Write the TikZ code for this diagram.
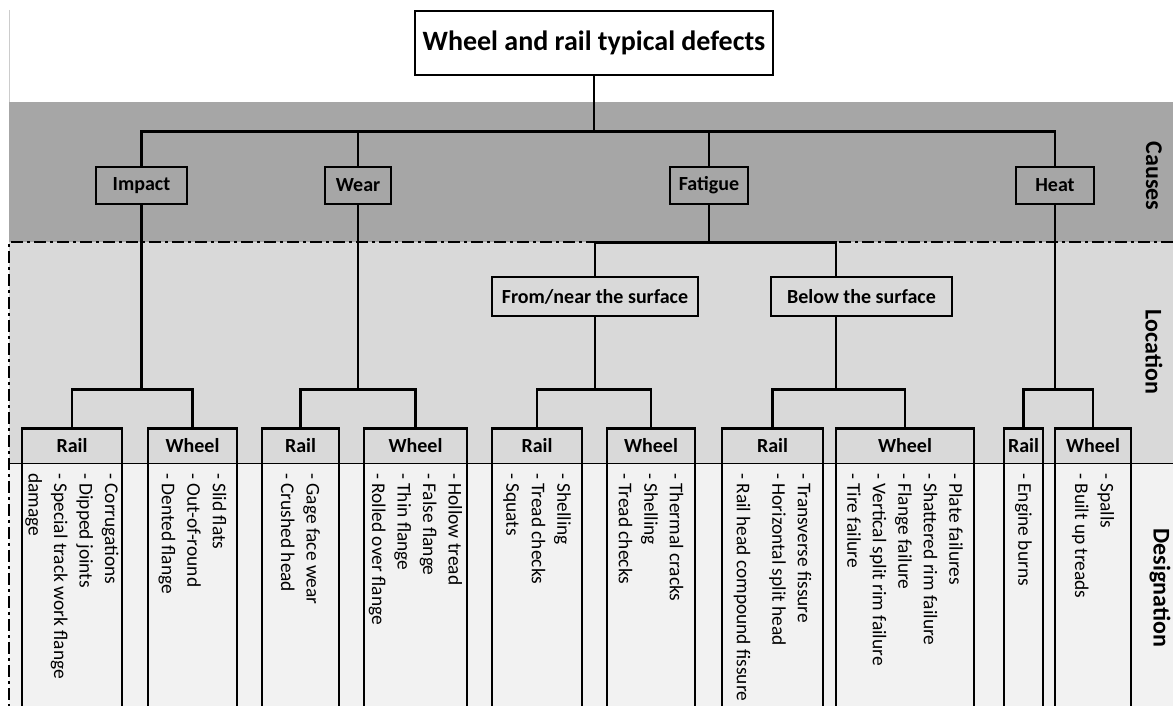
\documentclass[tikz,border=0pt]{standalone}
\usepackage{fontspec}
\setmainfont{Carlito}

\definecolor{causesgray}{RGB}{166,166,166}
\definecolor{locgray}{RGB}{217,217,217}
\definecolor{desgray}{RGB}{242,242,242}

\begin{document}
\begin{tikzpicture}[x=1pt, y=-1pt,
treebox/.style={draw, line width=2.8pt, inner sep=0pt, font=\bfseries\fontsize{20}{24}\selectfont},
cause/.style={treebox, minimum height=37pt},
place/.style={treebox, minimum height=39pt},
leaf/.style={treebox, anchor=north, text height=24.5pt, text depth=268.5pt},
items/.style={anchor=west, rotate=-90, align=left, inner sep=0pt, font=\fontsize{19.4}{25.5}\selectfont},
band/.style={rotate=-90, inner sep=0pt, font=\bfseries\fontsize{24}{28}\selectfont},
link/.style={line width=2.8pt},
dashdot/.style={line width=1.4pt, dash pattern=on 12pt off 4pt on 3pt off 4pt}]
    \useasboundingbox (0,0) rectangle (1173,706);
    \clip (0,0) rectangle (1173,706);
    \fill[white] (0,0) rectangle (1173,706);
    \fill[causesgray] (9,102) rectangle (1173,242);
    \fill[locgray] (9,242) rectangle (1173,463.5);
    \fill[desgray] (9,463.5) rectangle (1173,706);
    \draw[gray!40, line width=0.8pt] (9,10) -- (9,102);
    \draw[line width=1.2pt] (9,463.5) -- (1173,463.5);
    \draw[dashdot] (1173,242) -- (9,242) -- (9,706);

    \node [band] (causeslbl) at (1154,176) {Causes};
    \node [band] (loclbl) at (1154,352) {Location};
    \node [band] (deslbl) at (1160,588) {Designation};

    \node [treebox, fill=white, minimum width=358pt, minimum height=64pt,
        font=\bfseries\fontsize{28}{32}\selectfont] (title) at (594,43) {Wheel and rail typical defects};

    \node [cause, minimum width=91pt] (impact) at (141.5,185.5) {Impact};
    \node [cause, minimum width=66pt] (wear) at (358,185.5) {Wear};
    \node [cause, minimum width=78pt] (fatigue) at (709,185.5) {Fatigue};
    \node [cause, minimum width=78pt] (heat) at (1055,185.5) {Heat};

    \node [place, minimum width=206pt] (near) at (595,296.5) {From/near the surface};
    \node [place, minimum width=181pt] (below) at (861.5,296.5) {Below the surface};

    \node [leaf, minimum width=100pt] (ir) at (72,427) {Rail};
    \node [leaf, minimum width=89pt] (iw) at (192.5,427) {Wheel};
    \node [leaf, minimum width=77pt] (wr) at (300.5,427) {Rail};
    \node [leaf, minimum width=103pt] (ww) at (415.5,427) {Wheel};
    \node [leaf, minimum width=90pt] (nr) at (537,427) {Rail};
    \node [leaf, minimum width=88pt] (nw) at (651,427) {Wheel};
    \node [leaf, minimum width=101pt] (br) at (772.5,427) {Rail};
    \node [leaf, minimum width=138pt] (bw) at (905,427) {Wheel};
    \node [leaf, minimum width=39pt] (hr) at (1023.5,427) {Rail};
    \node [leaf, minimum width=76pt] (hw) at (1093,427) {Wheel};

    \node [items] (irlist) at ([yshift=-46pt]ir.north) {- Corrugations\\- Dipped joints\\- Special track work flange\\damage};
    \node [items] (iwlist) at ([yshift=-46pt]iw.north) {- Slid flats\\- Out-of-round\\- Dented flange};
    \node [items] (wrlist) at ([yshift=-46pt]wr.north) {- Gage face wear\\- Crushed head};
    \node [items] (wwlist) at ([yshift=-46pt]ww.north) {- Hollow tread\\- False flange\\- Thin flange\\- Rolled over flange};
    \node [items] (nrlist) at ([yshift=-46pt]nr.north) {- Shelling\\- Tread checks\\- Squats};
    \node [items] (nwlist) at ([yshift=-46pt]nw.north) {- Thermal cracks\\- Shelling\\- Tread checks};
    \node [items] (brlist) at ([yshift=-46pt]br.north) {- Transverse fissure\\- Horizontal split head\\[10pt]- Rail head compound fissure};
    \node [items] (bwlist) at ([yshift=-46pt]bw.north) {- Plate failures\\- Shattered rim failure\\- Flange failure\\- Vertical split rim failure\\- Tire failure};
    \node [items] (hrlist) at ([yshift=-46pt]hr.north) {- Engine burns};
    \node [items] (hwlist) at ([yshift=-46pt]hw.north) {- Spalls\\- Built up treads};

    \draw[link] (title.south) -- ++(0,55) -| (impact.north);
    \draw[link] (title.south) -- ++(0,55) -| (wear.north);
    \draw[link] (title.south) -- ++(0,55) -| (fatigue.north);
    \draw[link] (title.south) -- ++(0,55) -| (heat.north);

    \draw[link] (fatigue.south) -- ++(0,37) -| (near.north);
    \draw[link] (fatigue.south) -- ++(0,37) -| ([xshift=-25.5pt]below.north);

    \draw[link] (impact.south) -- ++(0,184) -| (ir.north);
    \draw[link] (impact.south) -- ++(0,184) -| (iw.north);
    \draw[link] (wear.south) -- ++(0,184) -| (wr.north);
    \draw[link] (wear.south) -- ++(0,184) -| (ww.north);
    \draw[link] (near.south) -- ++(0,72) -| (nr.north);
    \draw[link] (near.south) -- ++(0,72) -| (nw.north);
    \draw[link] ([xshift=-25.5pt]below.south) -- ++(0,72) -| (br.north);
    \draw[link] ([xshift=-25.5pt]below.south) -- ++(0,72) -| (bw.north);
    \draw[link] (heat.south) -- ++(0,184) -| (hr.north);
    \draw[link] (heat.south) -- ++(0,184) -| (hw.north);
\end{tikzpicture}
\end{document}
